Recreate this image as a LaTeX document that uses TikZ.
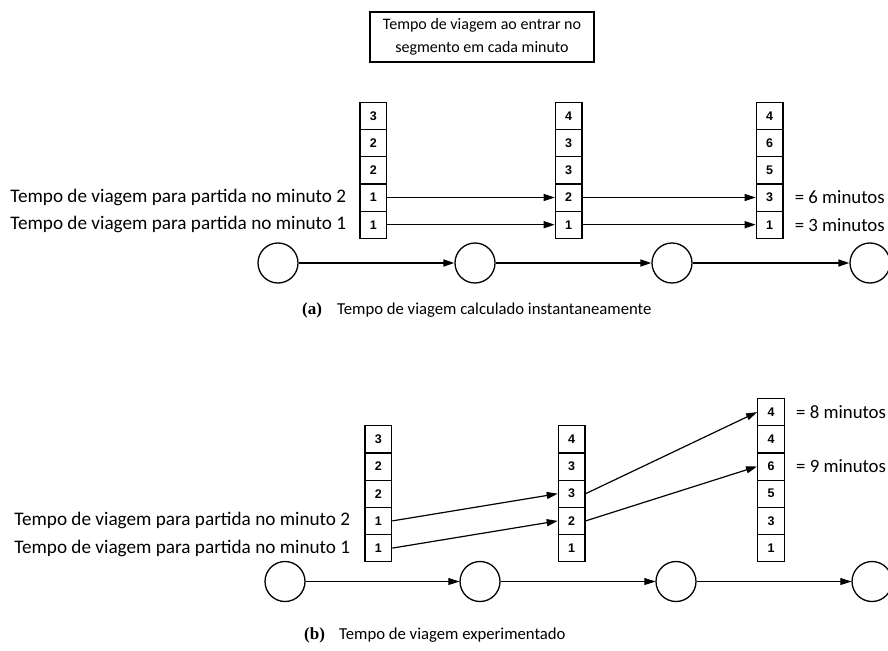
\documentclass[tikz,border=0pt]{standalone}
\usepackage{fontspec}
\setmainfont{Carlito}
\newfontfamily\digitfont{Liberation Sans}
\newfontfamily\capfont{Liberation Serif}
\usetikzlibrary{arrows.meta,positioning}

\begin{document}
\begin{tikzpicture}[x=1pt,y=-1pt,
  lbl/.style={font=\fontsize{19.2}{23}\selectfont, inner sep=0pt},
  sumlbl/.style={font=\fontsize{18.8}{23}\selectfont, inner sep=0pt},
  cell/.style={draw, line width=1.2pt, minimum width=26.7pt, minimum height=27.2pt,
    inner sep=0pt, font=\digitfont\bfseries\fontsize{12.5}{14}\selectfont},
  stopnode/.style={draw, circle, line width=1.3pt, minimum size=40pt, inner sep=0pt},
  tip/.style={-{Triangle[length=11pt,width=7pt]}},
  thinarrow/.style={tip, line width=0.7pt},
  thickarrow/.style={tip, line width=1.5pt},
  linkthick/.style={tip, line width=1.6pt},
  linkthin/.style={tip, line width=0.8pt},
  caplabel/.style={font=\capfont\bfseries\fontsize{17}{20}\selectfont, inner sep=0pt, anchor=base west},
  captext/.style={font=\fontsize{16.7}{20}\selectfont, inner sep=0pt, anchor=base west},
]
\useasboundingbox (0,0) rectangle (888,650);

% heading box
\node[draw, line width=1.6pt, minimum width=224pt, minimum height=50pt, align=center,
  font=\fontsize{16}{22.5}\selectfont, inner sep=0pt] (head) at (482,37)
  {Tempo de viagem ao entrar no\\segmento em cada minuto};

% ---------- (a) instantaneous travel time ----------
\foreach \v [count=\i] in {3,2,2,1,1}
  \node[cell] (a1-\i) at (373.35,{102.3+13.6+(\i-1)*27.2}) {\v};
\foreach \v [count=\i] in {4,3,3,2,1}
  \node[cell] (a2-\i) at (568.65,{102.3+13.6+(\i-1)*27.2}) {\v};
\foreach \v [count=\i] in {4,6,5,3,1}
  \node[cell] (a3-\i) at (769.65,{102.3+13.6+(\i-1)*27.2}) {\v};

\draw[thinarrow] (a1-4.east) -- (a2-4.west);
\draw[thinarrow] (a2-4.east) -- (a3-4.west);
\draw[thickarrow] (a1-5.east) -- (a2-5.west);
\draw[thickarrow] (a2-5.east) -- (a3-5.west);

\node[lbl, left=13pt of a1-4] (la2) {Tempo de viagem para partida no minuto 2};
\node[lbl, left=13pt of a1-5] (la1) {Tempo de viagem para partida no minuto 1};
\node[sumlbl, right=11pt of a3-4] (ra2) {= 6 minutos};
\node[sumlbl, right=11pt of a3-5] (ra1) {= 3 minutos};

\node[stopnode] (sa1) at (278,263) {};
\node[stopnode] (sa2) at (475,263) {};
\node[stopnode] (sa3) at (672,263) {};
\node[stopnode] (sa4) at (870,263) {};
\draw[linkthick] (sa1) -- (sa2);
\draw[linkthick] (sa2) -- (sa3);
\draw[linkthick] (sa3) -- (sa4);

\node[caplabel] (capa) at (302,314) {(a)};
\node[captext] (capat) at (337,314) {Tempo de viagem calculado instantaneamente};

% ---------- (b) experienced travel time ----------
\foreach \v [count=\i] in {3,2,2,1,1}
  \node[cell] (b1-\i) at (378.35,{425.7+13.6+(\i-1)*27.2}) {\v};
\foreach \v [count=\i] in {4,3,3,2,1}
  \node[cell] (b2-\i) at (571.65,{425.7+13.6+(\i-1)*27.2}) {\v};
\foreach \v [count=\i] in {4,4,6,5,3,1}
  \node[cell] (b3-\i) at (771,{398.5+13.6+(\i-1)*27.2}) {\v};

\draw[thickarrow, line width=1.2pt] (b1-4.east) -- (b2-3.west);
\draw[thickarrow, line width=1.2pt] (b1-5.east) -- (b2-4.west);
\draw[thickarrow, line width=1.2pt] (b2-3.east) -- (b3-1.west);
\draw[thickarrow, line width=1.2pt] (b2-4.east) -- (b3-3.west);

\node[lbl, left=14pt of b1-4] (lb2) {Tempo de viagem para partida no minuto 2};
\node[lbl, left=14pt of b1-5] (lb1) {Tempo de viagem para partida no minuto 1};
\node[sumlbl, right=11pt of b3-1] (rb2) {= 8 minutos};
\node[sumlbl, right=11pt of b3-3] (rb1) {= 9 minutos};

\node[stopnode] (sb1) at (285,581.5) {};
\node[stopnode] (sb2) at (480,581.5) {};
\node[stopnode] (sb3) at (676,581.5) {};
\node[stopnode] (sb4) at (872,581.5) {};
\draw[linkthin] (sb1) -- (sb2);
\draw[linkthin] (sb2) -- (sb3);
\draw[linkthin] (sb3) -- (sb4);

\node[caplabel] (capb) at (304,639) {(b)};
\node[captext] (capbt) at (339,639) {Tempo de viagem experimentado};
\end{tikzpicture}
\end{document}
